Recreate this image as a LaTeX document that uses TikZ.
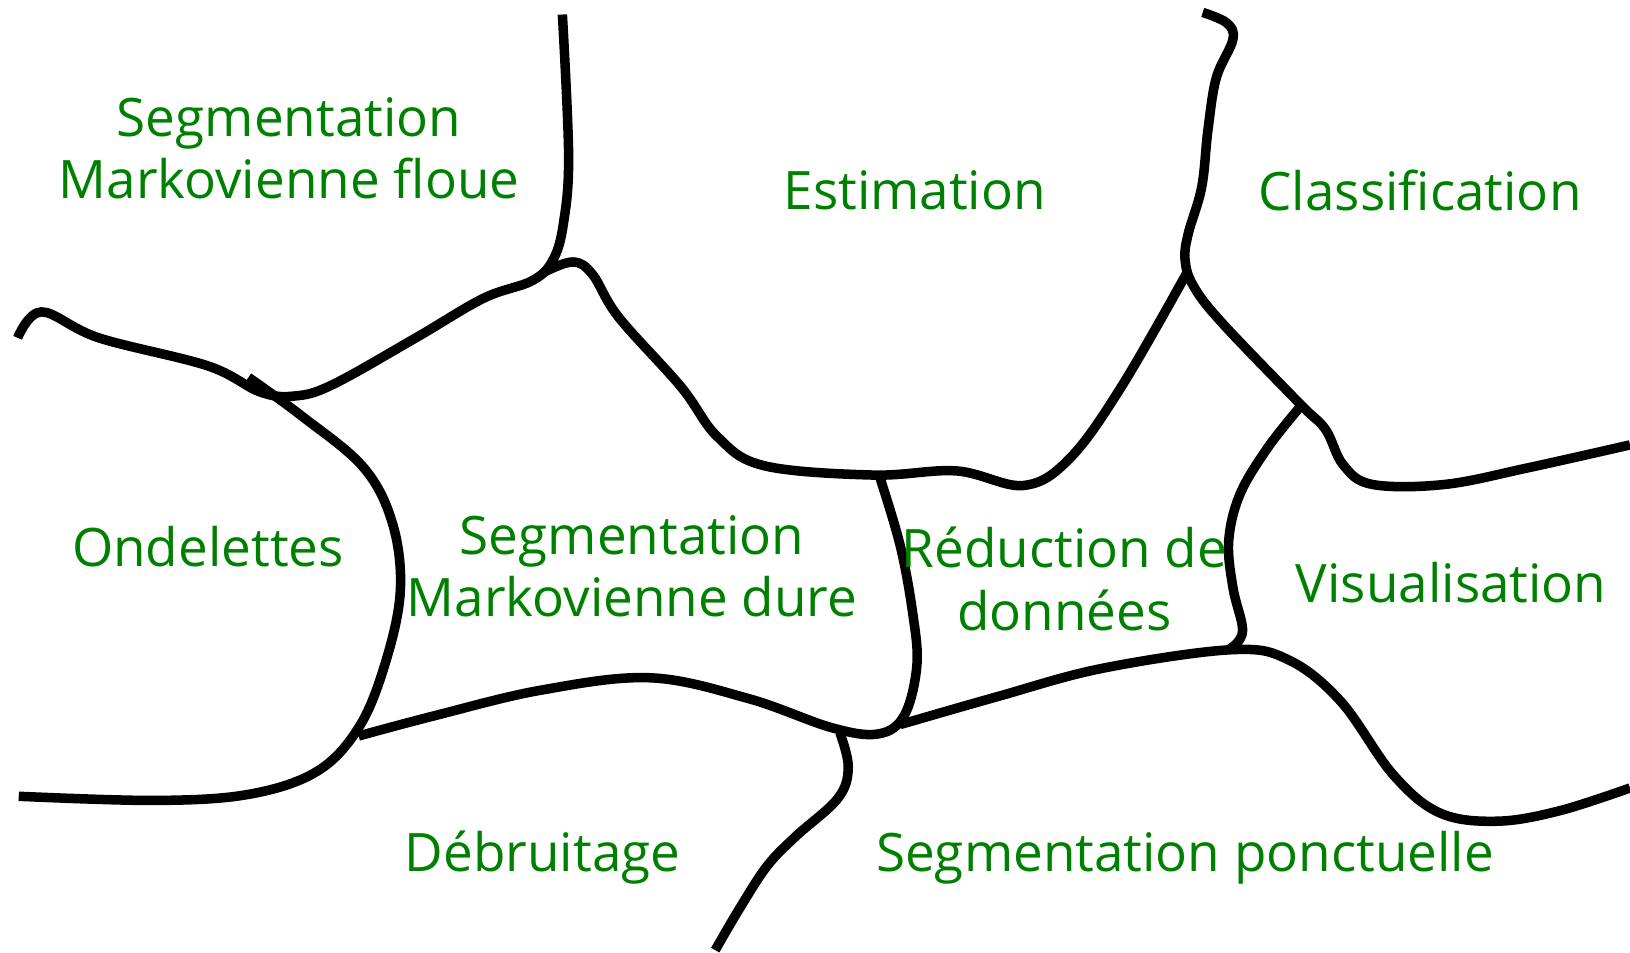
\documentclass[tikz,border=0pt]{standalone}
\usepackage{fontspec}
\setmainfont{Open Sans}
\usepackage{tikz}
\definecolor{mapgreen}{RGB}{0,128,0}
\tikzset{
    border/.style={line width=2.6pt,line join=round},
    field/.style={text=mapgreen,align=center,font=\fontsize{14.5}{17}\selectfont}
}

\begin{document}
\begin{tikzpicture}[x=0.01cm,y=-0.01cm]
    \useasboundingbox (0,0) rectangle (1568,916); % page size
    \draw[border] plot[smooth,tension=0.6] coordinates {(17,325) (40,300) (95,325) (200,352) (250,377) (283,381) (320,370) (400,325) (465,287) (512,270) (532,250) (542,215) (547,150) (541,14)}; % upper left border
    \draw[border] plot[smooth,tension=0.6] coordinates {(523,262) (551,252) (570,264) (595,305) (655,372) (690,420) (735,448) (840,457) (920,453) (985,467) (1030,440) (1080,370) (1142,262)}; % middle border
    \draw[border] plot[smooth,tension=0.6] coordinates {(1157,12) (1180,22) (1186,38) (1170,75) (1162,125) (1156,180) (1143,225) (1140,250) (1148,275) (1175,310) (1250,388) (1275,413) (1292,447) (1320,466) (1390,466) (1470,450) (1568,428)}; % upper right border
    \draw[border] plot[smooth,tension=0.6] coordinates {(239,363) (290,400) (350,450) (378,505) (385,570) (370,640) (345,700) (305,742) (240,764) (150,770) (18,766)}; % Ondelettes border
    \draw[border] plot[smooth,tension=0.6] coordinates {(345,708) (420,688) (520,664) (625,652) (720,672) (800,700) (845,706) (870,688) (882,640) (878,590) (866,525) (846,458)}; % dure border
    \draw[border] plot[smooth,tension=0.6] coordinates {(866,697) (960,670) (1060,643) (1185,625) (1240,635) (1290,675) (1340,745) (1385,782) (1440,790) (1500,780) (1568,758)}; % lower right border
    \draw[border] plot[smooth,tension=0.6] coordinates {(1251,391) (1220,430) (1193,475) (1182,520) (1186,565) (1195,602) (1192,616) (1182,625)}; % Visualisation border
    \draw[border] plot[smooth,tension=0.6] coordinates {(808,705) (816,738) (806,768) (765,805) (738,833) (712,873) (688,914)}; % lower border
    \node[field] (floue) at (278,143) {Segmentation\\Markovienne floue}; % fuzzy label
    \node[field] (estim) at (880,183) {Estimation}; % Estimation label
    \node[field] (classif) at (1366,183) {Classification}; % Classification label
    \node[field] (ondel) at (200,526) {Ondelettes}; % Ondelettes label
    \node[field] (dure) at (608,545) {Segmentation\\Markovienne dure}; % hard label
    \node[field] (reduc) at (1024,557) {R\'eduction de\\donn\'ees}; % Reduction label
    \node[field] (visu) at (1396,560) {Visualisation}; % Visualisation label
    \node[field] (debruit) at (522,825) {D\'ebruitage}; % Debruitage label
    \node[field] (ponct) at (1140,825) {Segmentation ponctuelle}; % ponctuelle label
\end{tikzpicture}
\end{document}
